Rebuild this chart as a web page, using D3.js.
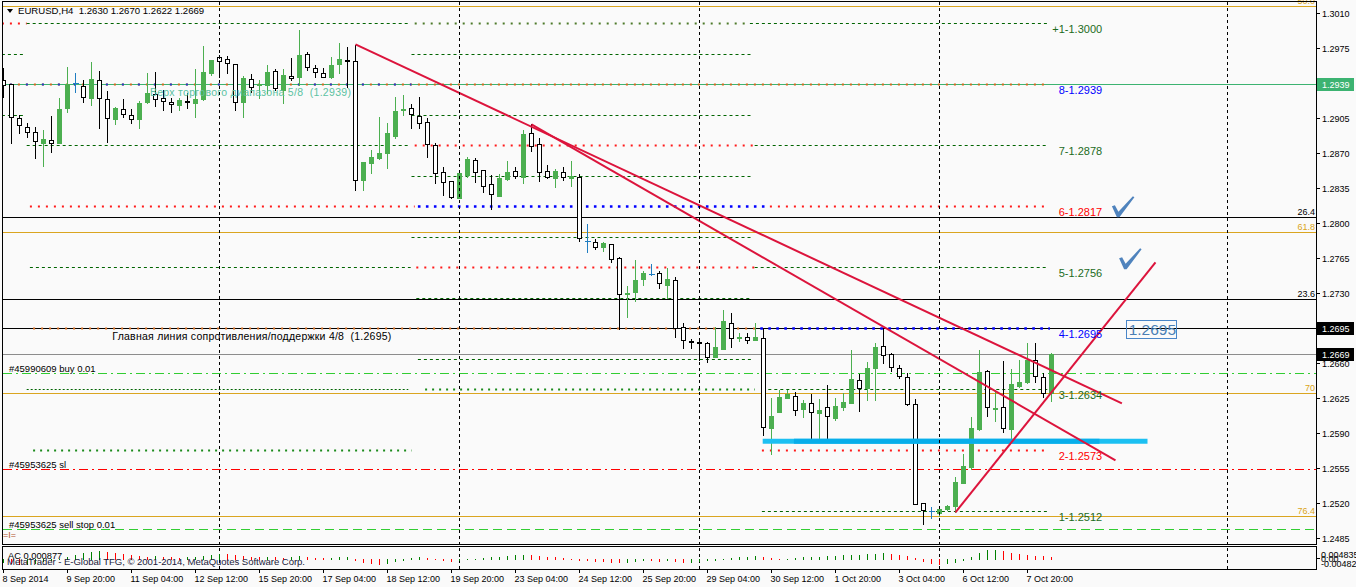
<!DOCTYPE html>
<html><head><meta charset="utf-8">
<script src="https://cdn.jsdelivr.net/npm/d3@7"></script>
<style>
body{margin:0;background:#fafafa}
svg{display:block}
text{font-family:"Liberation Sans",Arial,sans-serif;white-space:pre}
</style>
</head><body>
<svg id="c" width="1356" height="587"></svg>
<script>
// ---------------- DATA ----------------
const symbol = "EURUSD,H4";
const open = [1.2943,1.2939,1.2905,1.2896,1.2891,1.2880,1.2883,1.2880,1.2915,1.2940,
1.2937,1.2925,1.2943,1.2924,1.2904,1.2914,1.2908,1.2904,1.2921,1.2929,
1.2925,1.2921,1.2918,1.2922,1.2920,1.2924,1.2950,1.2966,1.2964,1.2959,
1.2921,1.2944,1.2938,1.2938,1.2952,1.2933,1.2947,1.2946,1.2969,1.2955,
1.2950,1.2946,1.2959,1.2963,1.2962,1.2843,1.2860,1.2865,1.2870,1.2887,
1.2913,1.2915,1.2907,1.2901,1.2878,1.2851,1.2842,1.2825,1.2848,1.2863,
1.2853,1.2839,1.2827,1.2844,1.2852,1.2846,1.2890,1.2879,1.2852,1.2845,
1.2851,1.2845,1.2846,1.2782,1.2781,1.2776,1.2779,1.2765,1.2729,1.2731,
1.2744,1.2749,1.2750,1.2738,1.2743,1.2696,1.2682,1.2681,1.2680,1.2666,
1.2674,1.2700,1.2685,1.2686,1.2683,1.2685,1.2595,1.2611,1.2625,1.2627,
1.2614,1.2620,1.2610,1.2616,1.2605,1.2616,1.2620,1.2643,1.2635,1.2655,
1.2677,1.2669,1.2655,1.2646,1.2619,1.2520,1.2512,1.2510,1.2514,1.2517,
1.2540,1.2556,1.2594,1.2652,1.2614,1.2616,1.2594,1.2637,1.2641,1.2663,
1.2646,1.2630];
const high = [1.2955,1.2939,1.2908,1.2900,1.2896,1.2893,1.2907,1.2925,1.2956,1.2950,
1.2943,1.2961,1.2952,1.2932,1.2916,1.2924,1.2914,1.2922,1.2950,1.2951,
1.2933,1.2925,1.2925,1.2930,1.2954,1.2977,1.2963,1.2968,1.2967,1.2959,
1.2947,1.2949,1.2943,1.2958,1.2954,1.2954,1.2965,1.2993,1.2971,1.2958,
1.2955,1.2966,1.2980,1.2976,1.2978,1.2861,1.2873,1.2906,1.2900,1.2926,
1.2928,1.2919,1.2926,1.2905,1.2880,1.2856,1.2842,1.2850,1.2866,1.2865,
1.2853,1.2848,1.2849,1.2862,1.2856,1.2893,1.2899,1.2885,1.2858,1.2854,
1.2856,1.2862,1.2849,1.2799,1.2784,1.2781,1.2779,1.2766,1.2737,1.2763,
1.2752,1.2759,1.2752,1.2755,1.2746,1.2700,1.2684,1.2683,1.2681,1.2696,
1.2713,1.2710,1.2690,1.2690,1.2700,1.2695,1.2625,1.2633,1.2633,1.2631,
1.2623,1.2629,1.2624,1.2638,1.2625,1.2630,1.2673,1.2649,1.2661,1.2680,
1.2695,1.2670,1.2658,1.2650,1.2624,1.2520,1.2516,1.2516,1.2518,1.2546,
1.2569,1.2606,1.2673,1.2653,1.2633,1.2662,1.2654,1.2663,1.2680,1.2680,
1.2650,1.2670];
const low = [1.2926,1.2880,1.2890,1.2886,1.2865,1.2857,1.2871,1.2880,1.2911,1.2931,
1.2921,1.2918,1.2895,1.2881,1.2899,1.2906,1.2900,1.2895,1.2920,1.2917,
1.2913,1.2911,1.2913,1.2915,1.2906,1.2923,1.2948,1.2946,1.2950,1.2913,
1.2906,1.2931,1.2925,1.2930,1.2933,1.2920,1.2943,1.2938,1.2953,1.2946,
1.2946,1.2945,1.2950,1.2936,1.2833,1.2833,1.2850,1.2864,1.2855,1.2885,
1.2908,1.2895,1.2895,1.2866,1.2840,1.2828,1.2825,1.2825,1.2846,1.2841,
1.2831,1.2814,1.2827,1.2843,1.2845,1.2840,1.2872,1.2842,1.2845,1.2836,
1.2843,1.2837,1.2782,1.2771,1.2774,1.2772,1.2761,1.2694,1.2706,1.2722,
1.2738,1.2748,1.2735,1.2725,1.2686,1.2675,1.2675,1.2663,1.2661,1.2666,
1.2674,1.2676,1.2682,1.2680,1.2683,1.2588,1.2569,1.2611,1.2625,1.2608,
1.2606,1.2583,1.2583,1.2585,1.2603,1.2613,1.2620,1.2612,1.2623,1.2623,
1.2660,1.2652,1.2645,1.2618,1.2519,1.2499,1.2505,1.2507,1.2513,1.2511,
1.2540,1.2554,1.2593,1.2607,1.2602,1.2591,1.2583,1.2636,1.2640,1.2641,
1.2626,1.2622];
const close = [1.2938,1.2906,1.2898,1.2891,1.2882,1.2884,1.2880,1.2914,1.2939,1.2940,
1.2926,1.2944,1.2925,1.2905,1.2915,1.2909,1.2904,1.2920,1.2930,1.2924,
1.2922,1.2919,1.2923,1.2921,1.2924,1.2951,1.2963,1.2962,1.2960,1.2921,
1.2945,1.2936,1.2939,1.2951,1.2935,1.2948,1.2945,1.2968,1.2956,1.2951,
1.2946,1.2958,1.2964,1.2962,1.2843,1.2861,1.2866,1.2870,1.2890,1.2912,
1.2914,1.2909,1.2900,1.2879,1.2850,1.2841,1.2826,1.2850,1.2864,1.2851,
1.2837,1.2829,1.2845,1.2851,1.2847,1.2889,1.2877,1.2851,1.2846,1.2852,
1.2846,1.2847,1.2785,1.2782,1.2776,1.2780,1.2764,1.2729,1.2730,1.2743,
1.2750,1.2749,1.2740,1.2744,1.2695,1.2683,1.2681,1.2680,1.2666,1.2676,
1.2702,1.2685,1.2686,1.2683,1.2686,1.2596,1.2607,1.2626,1.2629,1.2613,
1.2620,1.2611,1.2613,1.2607,1.2617,1.2621,1.2644,1.2635,1.2655,1.2676,
1.2668,1.2656,1.2647,1.2619,1.2519,1.2513,1.2512,1.2514,1.2517,1.2541,
1.2557,1.2595,1.2651,1.2616,1.2615,1.2595,1.2639,1.2641,1.2663,1.2647,
1.2630,1.2669];
// Accelerator oscillator (sub window)
const acValues = [-0.0020,-0.0025,-0.0030,-0.0028,-0.0022,-0.0015,-0.0008,-0.0002,0.0008,0.0018,
0.0028,0.0035,0.0040,0.0034,0.0028,0.0022,0.0018,0.0012,0.0010,0.0012,
0.0009,0.0006,0.0004,0.0006,0.0009,0.0014,0.0020,0.0024,0.0022,0.0018,
0.0014,0.0010,0.0008,0.0010,0.0007,0.0005,0.0008,0.0011,0.0008,0.0005,
0.0003,0.0004,0.0006,0.0008,-0.0008,-0.0018,-0.0024,-0.0028,-0.0022,-0.0014,
-0.0006,0.0002,0.0008,0.0005,0.0000,-0.0006,-0.0012,-0.0008,-0.0005,-0.0002,
0.0002,0.0006,0.0010,0.0014,0.0018,0.0020,0.0016,0.0012,0.0009,0.0006,
0.0003,-0.0002,-0.0006,-0.0010,-0.0013,-0.0015,-0.0016,-0.0020,-0.0017,-0.0012,
-0.0008,-0.0010,-0.0012,-0.0009,-0.0014,-0.0018,-0.0016,-0.0013,-0.0010,-0.0006,
-0.0002,0.0003,0.0006,0.0009,0.0011,0.0007,0.0002,-0.0002,0.0000,0.0003,
0.0006,0.0008,0.0010,0.0012,0.0014,0.0016,0.0018,0.0020,0.0022,0.0025,
0.0028,0.0024,0.0020,0.0015,0.0004,-0.0012,-0.0022,-0.0028,-0.0024,-0.0018,
-0.0010,0.0010,0.0028,0.0042,0.0044,0.0038,0.0030,0.0024,0.0018,0.0014,
0.0012,0.0009];
const acCurrent = "0.000877";
const acAxisLabels = ["0.004835","0.00","-0.00482"];
const acRange = [-0.00482, 0.004835];

const timeLabels = ["8 Sep 2014","9 Sep 20:00","11 Sep 04:00","12 Sep 12:00","15 Sep 20:00","17 Sep 04:00",
"18 Sep 12:00","19 Sep 20:00","23 Sep 04:00","24 Sep 12:00","25 Sep 20:00","29 Sep 04:00","30 Sep 12:00",
"1 Oct 20:00","3 Oct 04:00","6 Oct 12:00","7 Oct 20:00"];
const barsPerLabel = 8;
const priceTicks = [1.3010,1.2975,1.2940,1.2905,1.2870,1.2835,1.2800,1.2765,1.2730,1.2695,1.2660,1.2625,1.2590,1.2555,1.2520,1.2485];
const weekSeparators = [27,57,87,117,153];

// Fibonacci levels
const goldFibLevels = [1.3017,1.2791,1.2630,1.2507];
const goldFibLabels = ["50.0","61.8","70","76.4"];
const blackFibLevels = [1.2806,1.2724];
const blackFibLabels = ["26.4","23.6"];

// Horizontal line objects
const resistanceTop = 1.2939;
const mainLevel = 1.2695;
const bidPrice = 1.2669;

// Orders
const orderPrices = [1.2650,1.2554,1.2494];
const orderLabels = ["#45990609 buy 0.01","#45953625 sl","#45953625 sell stop 0.01"];
const orderKinds = ["buy","sl","pending"];

// Murrey Math level segments: [price, fromBar, toBar, kind]
const murreySegments = [
 [1.3000,-0.2,2.9,"red"],[1.3000,2.9,50.6,"dash"],[1.3000,51.4,93.3,"dot"],[1.3000,93.3,130.6,"dash"],
 [1.29695,-0.2,2.8,"dash"],[1.29695,51,93.6,"dash"],
 [1.2939,-0.2,130.8,"orange"],[1.2939,-0.2,51,"blue2"],
 [1.29085,-0.2,2.8,"dash"],[1.29085,51,93.6,"dash"],
 [1.2878,2.9,50.6,"dash"],[1.2878,51.4,93.9,"red"],[1.2878,93.9,130.6,"dash"],
 [1.28475,51,93.6,"dash"],
 [1.2817,3.3,51.4,"red"],[1.2817,51.8,95.8,"blue"],[1.2817,95.8,130.6,"red"],
 [1.27865,51,93.6,"dash"],
 [1.2756,3.3,50.9,"dash"],[1.2756,51.6,93.9,"red"],[1.2756,93.9,130.6,"dash"],
 [1.27255,51.6,93.6,"dash"],
 [1.2695,3.7,94.6,"orange"],[1.2695,94.6,130.8,"blue"],
 [1.26645,51.8,93.6,"dash"],
 [1.2634,2.9,50.6,"fine"],[1.2634,52.7,93.9,"green"],[1.2634,95.6,130.8,"dash"],
 [1.2573,3.7,51,"green"],[1.2573,94.8,130.8,"red"],
 [1.2512,94.8,130.8,"dash"]
];
const murreyLabels = ["+1-1.3000","8-1.2939","7-1.2878","6-1.2817","5-1.2756","4-1.2695","3-1.2634","2-1.2573","1-1.2512"];
const murreyPrices = [1.3000,1.2939,1.2878,1.2817,1.2756,1.2695,1.2634,1.2573,1.2512];
const murreyLabelKinds = ["dash","blue","dash","red","dash","blue","dash","red","dash"];

// Trend lines [bar1, price1, bar2, price2]
const trendLines = [[44,1.2979,139.8,1.2620],[66,1.2899,139,1.2563],[119,1.2511,144,1.2761]];
// Support zone (thick cyan)
const supportZone = [94.9,143,1.2582];
const supportCore = [98.8,137,1.2582];
// Text objects
const topRangeText = "Верх торгового диапазона 5/8  (1.2939)";
const topRangeAnchor = [18.3,1.2939];
const mainLineText = "Главная линия сопротивления/поддержки 4/8  (1.2695)";
const mainLineAnchor = [13.6,1.2695];
const priceBoxText = "1.2695";
const priceBoxAnchor = [140.4,1.2694];
const checkMarks = [[139.3,1.2807],[140.2,1.2755]];
const copyright = "MetaTrader - E-Global TFG, © 2001-2014, MetaQuotes Software Corp.";

// ---------------- DRAW ----------------
const svg = d3.select("#c");
const PL=3, PR=1316, PT=2, PB=544, ST=547, SB=569;
const x = d3.scaleLinear().domain([0,131]).range([3.5,1051.5]);
const y = d3.scaleLinear().domain([1.3010,1.2485]).range([13.3,538.3]);
const ly = p => Math.round(y(p)) + 0.5;
const ya = d3.scaleLinear().domain(acRange).range([568,549]);

svg.append("rect").attr("width",1356).attr("height",587).attr("fill","#fafafa");
const defs = svg.append("defs");
defs.append("clipPath").attr("id","main").append("rect").attr("x",PL).attr("y",PT).attr("width",PR-PL).attr("height",PB-PT);
defs.append("clipPath").attr("id","sub").append("rect").attr("x",PL).attr("y",ST).attr("width",PR-PL).attr("height",SB-ST);

const g = svg.append("g").attr("clip-path","url(#main)");
const hline = (sel,p,x1,x2,color,w,dash)=>{
  const l = sel.append("line").attr("x1",x1).attr("x2",x2).attr("y1",ly(p)).attr("y2",ly(p))
   .attr("stroke",color).attr("stroke-width",w);
  if(dash) l.attr("stroke-dasharray",dash);
  return l;
};

// Fibonacci and horizontal lines (full width)
goldFibLevels.forEach(p=>hline(g,p,PL,PR,"#daa520",1));
blackFibLevels.forEach(p=>hline(g,p,PL,PR,"#000",1));
hline(g,resistanceTop,PL,PR,"#3cb371",1);
hline(g,mainLevel,PL,PR,"#000",1);
hline(g,bidPrice,PL,PR,"#8c8c8c",1);

// Murrey segments
const mmStyle = {
  dash:{c:"#006400",w:1,d:"3,3"},
  dot:{c:"#4d7a2a",w:2,d:"2,6"},
  red:{c:"#ff1a1a",w:2,d:"2,6"},
  blue:{c:"#0000ff",w:2.6,d:"2.6,5.4"},
  blue2:{c:"#1f3fd0",w:2,d:"2,14",o:-8},
  orange:{c:"#d2691e",w:2,d:"2,6"},
  fine:{c:"#006400",w:1,d:"2,2"},
  green:{c:"#1b8a1b",w:2,d:"2,5"}
};
murreySegments.forEach(([p,a,b,k])=>{
  const s = mmStyle[k];
  const l = hline(g,p,x(a),x(b),s.c,s.w,s.d);
  if(s.o) l.attr("stroke-dashoffset",s.o);
});

// Orders
const orderStyle = {buy:{c:"#32cd32",d:"9,4,2,4"},sl:{c:"#ff0000",d:"9,4,2,4"},pending:{c:"#32cd32",d:"9,5"}};
orderPrices.forEach((p,i)=>{
  const s = orderStyle[orderKinds[i]];
  hline(g,p,PL,PR,s.c,1,s.d);
});

// Separators
weekSeparators.forEach(b=>{
  svg.append("line").attr("x1",Math.round(x(b)-0.5)+0.5).attr("x2",Math.round(x(b)-0.5)+0.5)
    .attr("y1",PT).attr("y2",SB).attr("stroke","#000").attr("stroke-dasharray","3,3");
});

// Candles
const cg = g.append("g").attr("shape-rendering","crispEdges");
const GREEN="#4caf50", DOJI="#1f7dc1";
open.forEach((o,i)=>{
  const c=close[i], h=high[i], l=low[i];
  const cx = x(i);
  const ro=Math.round(y(o)), rc=Math.round(y(c)), rh=Math.round(y(h)), rl=Math.round(y(l));
  if(o===c){
    cg.append("line").attr("x1",cx).attr("x2",cx).attr("y1",rh).attr("y2",rl+1).attr("stroke",DOJI);
    cg.append("line").attr("x1",cx-3).attr("x2",cx+3).attr("y1",ro+0.5).attr("y2",ro+0.5).attr("stroke",DOJI);
  } else if(c>o){
    cg.append("line").attr("x1",cx).attr("x2",cx).attr("y1",rh).attr("y2",rl+1).attr("stroke",GREEN);
    cg.append("rect").attr("x",cx-2.5).attr("y",rc).attr("width",5).attr("height",Math.max(1,ro-rc+1)).attr("fill",GREEN);
  } else {
    cg.append("line").attr("x1",cx).attr("x2",cx).attr("y1",rh).attr("y2",rl+1).attr("stroke","#000");
    cg.append("rect").attr("x",cx-2).attr("y",ro+0.5).attr("width",4).attr("height",Math.max(1,rc-ro))
      .attr("fill","#fff").attr("stroke","#000");
  }
});

// Support zone
g.append("line").attr("x1",x(supportZone[0])).attr("x2",x(supportZone[1]))
 .attr("y1",y(supportZone[2])).attr("y2",y(supportZone[2])).attr("stroke","#1cc0f2").attr("stroke-width",5);
g.append("line").attr("x1",x(supportCore[0])).attr("x2",x(supportCore[1]))
 .attr("y1",y(supportCore[2])).attr("y2",y(supportCore[2])).attr("stroke","#08aeea").attr("stroke-width",5);

// Trend lines
trendLines.forEach(([b1,p1,b2,p2])=>{
  g.append("line").attr("x1",x(b1)).attr("y1",y(p1)).attr("x2",x(b2)).attr("y2",y(p2))
   .attr("stroke","#dc143c").attr("stroke-width",2);
});

// Check marks
checkMarks.forEach(([b,p])=>{
  const vx=x(b), vy=y(p);
  g.append("path").attr("d",`M${vx-6},${vy-10} L${vx-3},${vy-11} L${vx+0.5},${vy-4.5} L${vx+15},${vy-20} L${vx+16.5},${vy-19} L${vx+1.5},${vy+1} L${vx-1},${vy+1} Z`)
   .attr("fill","#4f83bd");
});

// Price box object
{
  const bx=x(priceBoxAnchor[0]), by=y(priceBoxAnchor[1]);
  g.append("rect").attr("x",Math.round(bx)-0.5).attr("y",Math.round(by-9)+0.5).attr("width",50).attr("height",18)
   .attr("fill","none").attr("stroke","#4a86c8");
  g.append("text").attr("x",bx+2).attr("y",by+6).attr("font-size",15.5).attr("fill","#4a7fb5").text(priceBoxText);
}

// Murrey labels
const labelColor = {dash:"#1c6b1c",blue:"#0000ff",red:"#ff0000"};
murreyLabels.forEach((t,i)=>{
  g.append("text").attr("x",x(137.33)).attr("y",y(murreyPrices[i])+9.5).attr("text-anchor","end")
   .attr("font-size",11).attr("fill",labelColor[murreyLabelKinds[i]]).text(t);
});

// Fib labels
goldFibLevels.forEach((p,i)=>{
  svg.append("text").attr("x",PR-1).attr("y",ly(p)-2.5).attr("text-anchor","end").attr("font-size",9)
   .attr("fill","#daa520").text(goldFibLabels[i]);
});
blackFibLevels.forEach((p,i)=>{
  svg.append("text").attr("x",PR-1).attr("y",ly(p)-2.5).attr("text-anchor","end").attr("font-size",9)
   .attr("fill","#000").text(blackFibLabels[i]);
});

// Text objects
g.append("text").attr("x",x(topRangeAnchor[0])).attr("y",y(topRangeAnchor[1])+12).attr("font-size",10.5)
 .attr("fill","#5cc2a2").attr("textLength",201).text(topRangeText);
g.append("text").attr("x",x(mainLineAnchor[0])).attr("y",y(mainLineAnchor[1])+11.5).attr("font-size",10.5)
 .attr("fill","#000").attr("textLength",279).text(mainLineText);
orderPrices.forEach((p,i)=>{
  g.append("text").attr("x",9).attr("y",ly(p)-2).attr("font-size",9.5).attr("fill","#000").text(orderLabels[i]);
});
// small marker
g.append("text").attr("x",3).attr("y",538).attr("font-size",9).attr("fill","#b0502a").text("=I=");

// Header
svg.append("path").attr("d","M7,9 L13,9 L10,13 Z").attr("fill","#000");
svg.append("text").attr("x",18).attr("y",14).attr("font-size",9.6).attr("fill","#000")
  .text(`${symbol}  ${open[131].toFixed(4)} ${high[131].toFixed(4)} ${low[131].toFixed(4)} ${close[131].toFixed(4)}`);

// Sub window AC
const sg = svg.append("g").attr("clip-path","url(#sub)").attr("shape-rendering","crispEdges");
acValues.forEach((v,i)=>{
  const up = i===0 ? true : v>acValues[i-1];
  const y0 = Math.round(ya(0)), y1=Math.round(ya(v));
  sg.append("line").attr("x1",x(i)).attr("x2",x(i)).attr("y1",Math.min(y0,y1)).attr("y2",Math.max(y0,y1)+1)
    .attr("stroke",up?"#008000":"#ff0000");
});
svg.append("text").attr("x",8).attr("y",559).attr("font-size",9.3).attr("fill","#000").text("AC "+acCurrent);
svg.append("text").attr("x",7).attr("y",565).attr("font-size",9.6).attr("fill","#1a1a3a").attr("textLength",298).text(copyright);

// Frames
svg.append("rect").attr("x",PL-0.5).attr("y",PT-0.5).attr("width",PR-PL+1).attr("height",PB-PT+1)
  .attr("fill","none").attr("stroke","#000");
svg.append("rect").attr("x",PL-0.5).attr("y",ST-0.5).attr("width",PR-PL+1).attr("height",SB-ST+1)
  .attr("fill","none").attr("stroke","#000");

// Price axis
priceTicks.forEach(p=>{
  svg.append("line").attr("x1",PR).attr("x2",PR+4).attr("y1",ly(p)).attr("y2",ly(p)).attr("stroke","#000");
  svg.append("text").attr("x",PR+6).attr("y",y(p)+3.5).attr("font-size",9).attr("fill","#000").text(p.toFixed(4));
});
const axisBox = (p,bg,txt)=>{
  const cy = y(p);
  svg.append("rect").attr("x",PR+1).attr("y",Math.round(cy)-6).attr("width",37).attr("height",13).attr("fill",bg);
  svg.append("text").attr("x",PR+6).attr("y",cy+3.5).attr("font-size",9).attr("fill","#fff").text(txt);
};
axisBox(resistanceTop,"#3cb371",resistanceTop.toFixed(4));
axisBox(mainLevel,"#000",mainLevel.toFixed(4));
axisBox(bidPrice,"#000",bidPrice.toFixed(4));

// AC axis labels
[558,561.5,567].forEach((yy,i)=>{
  svg.append("text").attr("x",PR+5).attr("y",yy).attr("font-size",9).attr("fill","#000").text(acAxisLabels[i]);
});
svg.append("line").attr("x1",PR).attr("x2",PR+4).attr("y1",ya(0)).attr("y2",ya(0)).attr("stroke","#000");

// Time axis
timeLabels.forEach((t,k)=>{
  const bx = Math.round(x(k*barsPerLabel)-0.5)+0.5;
  svg.append("line").attr("x1",bx).attr("x2",bx).attr("y1",SB).attr("y2",SB+4).attr("stroke","#000");
  svg.append("text").attr("x",bx-1).attr("y",582).attr("font-size",9).attr("fill","#000").text(t);
});
</script>
</body></html>
